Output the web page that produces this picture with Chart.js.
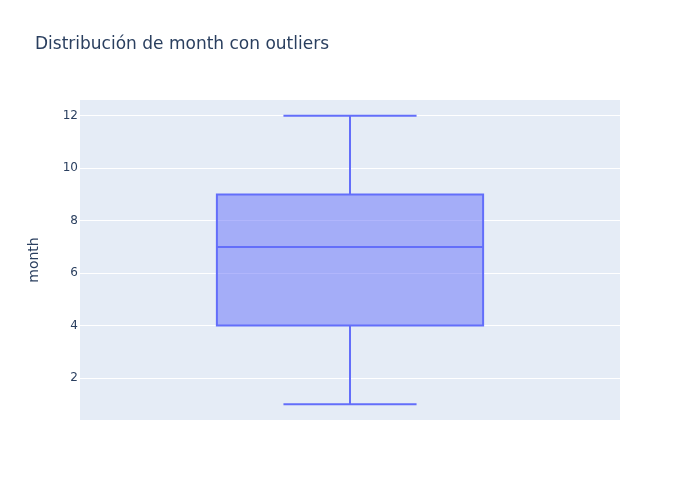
<!DOCTYPE html>
<html>
<head>
<meta charset="utf-8">
<script src="https://cdn.jsdelivr.net/npm/chart.js@4.4.1/dist/chart.umd.min.js"></script>
<style>
  html, body { margin:0; padding:0; background:#fff; }
  #wrap { width:700px; height:500px; position:relative; }
</style>
</head>
<body>
<div id="wrap"><canvas id="boxChart" width="700" height="500"></canvas></div>
<script>
// datos del box plot
const categories = ['month'];
const lowerFence = [1];
const q1 = [4];
const median = [7];
const q3 = [9];
const upperFence = [12];
const yTicks = [2, 4, 6, 8, 10, 12];
const titleText = 'Distribución de month con outliers';

const lineColor = '#636efa';
const fillColor = 'rgba(99,110,250,0.5)';
const textColor = '#2a3f5f';
const fontFam = '"DejaVu Sans", "Open Sans", sans-serif';

// fondo del área del gráfico
const plotBg = {
  id: 'plotBg',
  beforeDraw(chart){
    const {ctx, chartArea:a} = chart;
    ctx.save();
    ctx.fillStyle = '#E5ECF6';
    ctx.fillRect(a.left, a.top, a.right - a.left, a.bottom - a.top);
    ctx.restore();
  }
};

// título arriba a la izquierda
const titlePlugin = {
  id: 'titlePlugin',
  afterDraw(chart){
    const ctx = chart.ctx;
    ctx.save();
    ctx.font = '17px ' + fontFam;
    ctx.fillStyle = textColor;
    ctx.textBaseline = 'middle';
    ctx.fillText(titleText, 35, 45);
    ctx.restore();
  }
};

// borde de la caja, bigotes y mediana
const whiskers = {
  id: 'whiskers',
  afterDatasetsDraw(chart){
    const ctx = chart.ctx;
    const y = chart.scales.y;
    const meta = chart.getDatasetMeta(0);
    ctx.save();
    ctx.strokeStyle = lineColor;
    ctx.lineWidth = 2;
    meta.data.forEach((bar, i) => {
      const cx = bar.x;
      const half = bar.width / 2;
      const cap = bar.width / 4;
      const pMed = y.getPixelForValue(median[i]);
      const pQ1 = y.getPixelForValue(q1[i]);
      const pQ3 = y.getPixelForValue(q3[i]);
      const pLo = y.getPixelForValue(lowerFence[i]);
      const pHi = y.getPixelForValue(upperFence[i]);
      ctx.beginPath();
      // caja
      ctx.rect(cx - half, pQ3, bar.width, pQ1 - pQ3);
      // mediana
      ctx.moveTo(cx - half, pMed); ctx.lineTo(cx + half, pMed);
      // bigote inferior
      ctx.moveTo(cx, pQ1); ctx.lineTo(cx, pLo);
      ctx.moveTo(cx - cap, pLo); ctx.lineTo(cx + cap, pLo);
      // bigote superior
      ctx.moveTo(cx, pQ3); ctx.lineTo(cx, pHi);
      ctx.moveTo(cx - cap, pHi); ctx.lineTo(cx + cap, pHi);
      ctx.stroke();
    });
    ctx.restore();
  }
};

const ctx = document.getElementById('boxChart').getContext('2d');
new Chart(ctx, {
  type: 'bar',
  data: {
    labels: categories,
    datasets: [{
      label: 'month',
      data: categories.map((c, i) => [q1[i], q3[i]]),
      backgroundColor: fillColor,
      borderWidth: 0,
      categoryPercentage: 1,
      barPercentage: 0.493
    }]
  },
  options: {
    responsive: false,
    animation: false,
    layout: { padding: { left: 0, top: 100, right: 80, bottom: 80 } },
    plugins: {
      legend: { display: false },
      tooltip: { enabled: false },
      title: { display: false }
    },
    scales: {
      x: { display: false },
      y: {
        min: 0.4,
        max: 12.6,
        afterBuildTicks: (scale) => { scale.ticks = yTicks.map(v => ({ value: v })); },
        afterFit: (scale) => { scale.width = 80; },
        grid: { color: '#ffffff', lineWidth: 1, drawTicks: false },
        border: { display: false },
        ticks: {
          padding: 2,
          color: textColor,
          font: { family: fontFam, size: 12 }
        },
        title: {
          display: true,
          text: 'month',
          color: textColor,
          font: { family: fontFam, size: 14 },
          padding: { top: 26, bottom: 0 }
        }
      }
    }
  },
  plugins: [plotBg, whiskers, titlePlugin]
});
</script>
</body>
</html>
